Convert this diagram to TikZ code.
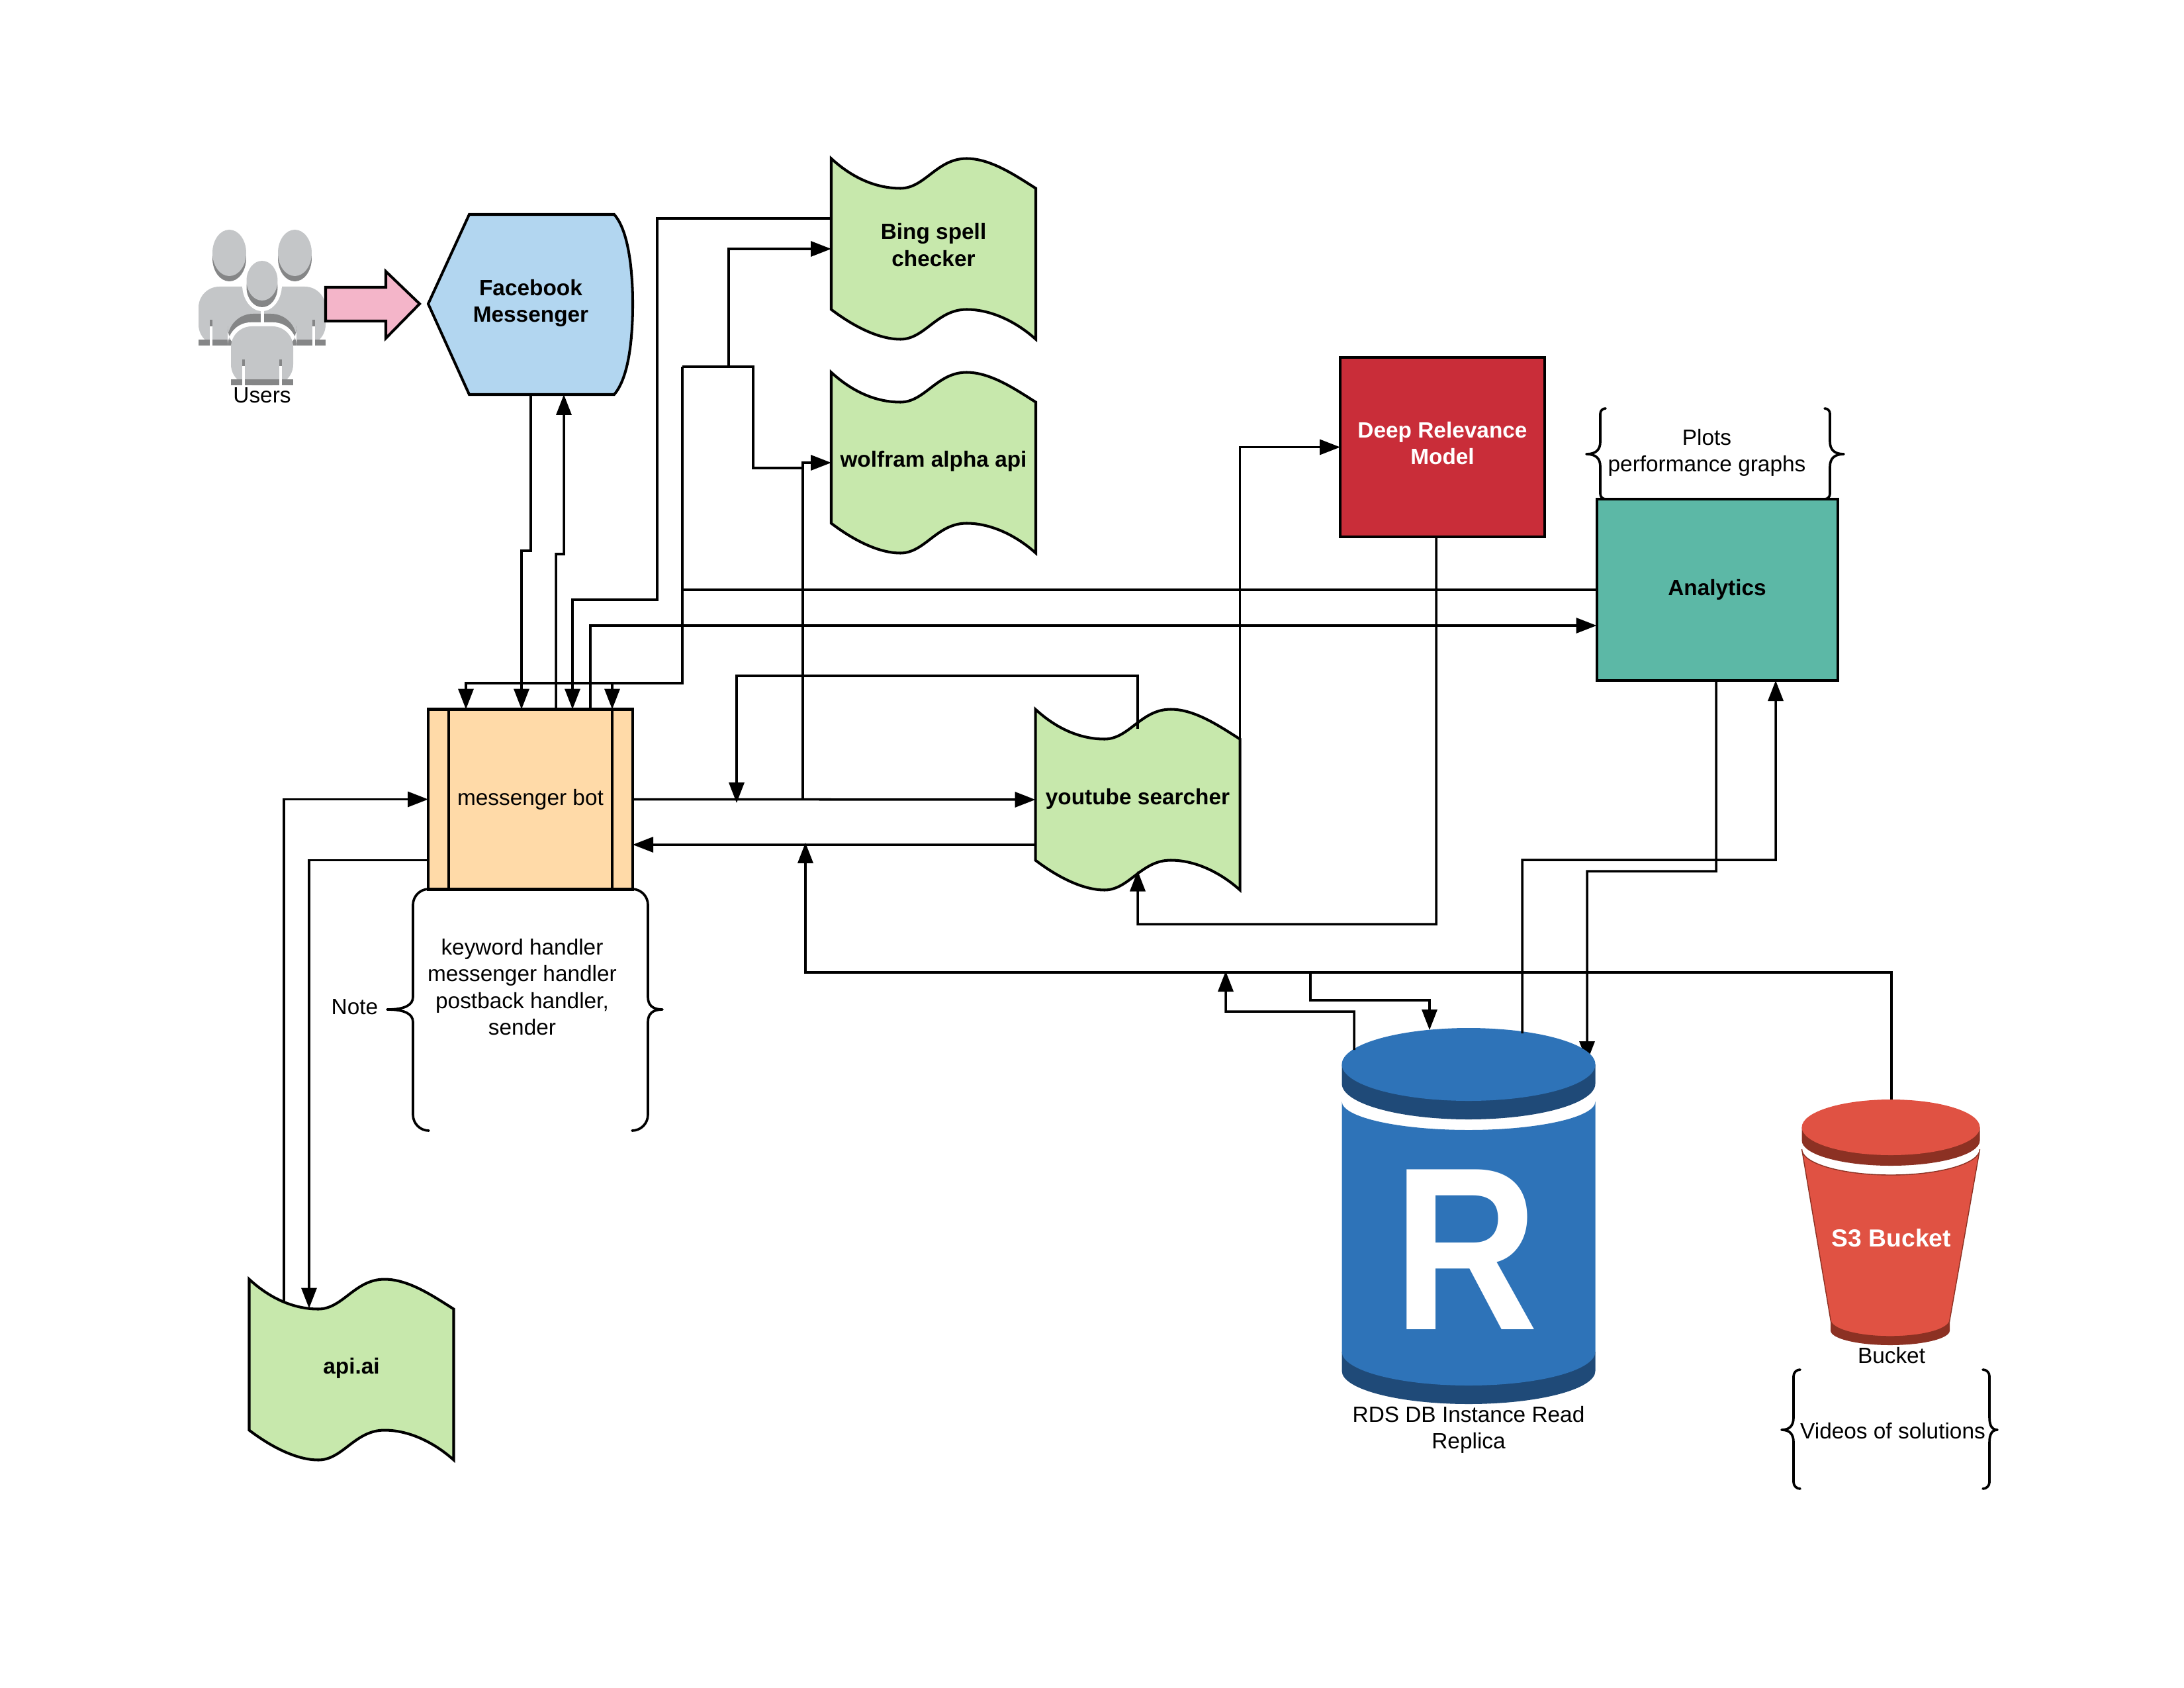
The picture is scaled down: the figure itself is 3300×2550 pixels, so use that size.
\documentclass[tikz,border=0pt]{standalone}
\usepackage{fontspec}
\setmainfont{Liberation Sans}
\usepackage{tikz}
\usetikzlibrary{arrows.meta}
\usepackage{xcolor}
\definecolor{greenFill}{HTML}{C7E8AC}
\definecolor{blueFill}{HTML}{B2D6F0}
\definecolor{orangeFill}{HTML}{FFDAA8}
\definecolor{redFill}{HTML}{C92D39}
\definecolor{tealFill}{HTML}{5CB8A6}
\definecolor{pinkFill}{HTML}{F4B5C9}
\definecolor{rdsBlue}{HTML}{2E73B8}
\definecolor{rdsDark}{HTML}{1F4A78}
\definecolor{bucketRed}{HTML}{E05243}
\definecolor{bucketDark}{HTML}{8C3123}
\definecolor{userLight}{HTML}{C4C6C8}
\definecolor{userDark}{HTML}{858687}
\newcommand{\wavenode}[5]{%
\draw[wavepath, shift={(#2,#3)}] (-154.5,-136.5) .. controls (-117,-102) and (-80,-91.5) .. (-50,-91.5) .. controls (-13,-91.5) and (5,-136.5) .. (50,-136.5) .. controls (87,-136.5) and (125,-110) .. (154.5,-91.5) -- (154.5,136.5) .. controls (125,110) and (87,91.5) .. (50,91.5) .. controls (5,91.5) and (-13,136.5) .. (-50,136.5) .. controls (-80,136.5) and (-117,120) .. (-154.5,91.5) -- cycle;
\node[tag, minimum width=30.9cm/10, minimum height=27.3cm/10] (#1) at (#2,#3) {};
\node[boldtag, yshift=#5] (#1Text) at (#1.center) {#4};}
\newcommand{\curlypair}[8]{%
\draw[curly] ({#1+#7},#3) arc[start angle=270, end angle=180, radius=#7] -- (#1,{#4-19}) .. controls (#1,{#4-6}) and ({#1-#6*0.35},#4) .. ({#1-#6},#4) .. controls ({#1-#6*0.35},#4) and (#1,{#4+6}) .. (#1,{#4+19}) -- (#1,{#5-#7}) arc[start angle=180, end angle=90, radius=#7];
\draw[curly] ({#2-#7},#3) arc[start angle=270, end angle=360, radius=#7] -- (#2,{#4-19}) .. controls (#2,{#4-6}) and ({#2+#8*0.35},#4) .. ({#2+#8},#4) .. controls ({#2+#8*0.35},#4) and (#2,{#4+6}) .. (#2,{#4+19}) -- (#2,{#5-#7}) arc[start angle=0, end angle=90, radius=#7];}
\begin{document}
\begin{tikzpicture}[x=0.1mm, y=-0.1mm,
  tag/.style={inner sep=0pt, outer sep=0pt, align=center, font=\fontsize{9.5}{11.5}\selectfont},
  boldtag/.style={tag, font=\fontsize{9.5}{11.5}\selectfont\bfseries},
  boxed/.style={boldtag, draw, line width=1.15pt},
  wavepath/.style={draw, line width=1.15pt, fill=greenFill, line join=miter},
  curly/.style={draw, line width=1.05pt, line cap=round, line join=round},
  flowline/.style={draw, line width=1pt},
  flowarrow/.style={flowline, -{Triangle[length=3.1mm,width=2.3mm]}}]
\useasboundingbox (0,-1) rectangle (3300,2549);

\fill[userLight, rounded corners=3.15mm] (300,521) -- (300,432) -- (492,432) -- (492,521) -- cycle;
\fill[userDark] (300,512) rectangle (492,521);
\fill[userDark] (317,482) rectangle (321,492);
\fill[userDark] (472,482) rectangle (476,492);
\fill[white] (317,492) rectangle (321,521);
\fill[white] (472,492) rectangle (476,521);
\fill[userDark, rounded corners=3.85mm] (344,530) -- (344,473) -- (448,473) -- (448,530) -- cycle;
\fill[white, rounded corners=3.5mm] (344,530) -- (344,486) -- (448,486) -- (448,530) -- cycle;
\fill[white] (344,521) rectangle (448,530);
\fill[userLight, rounded corners=3.15mm] (349,581) -- (349,492) -- (443,492) -- (443,581) -- cycle;
\fill[userDark] (349,572) rectangle (443,581);
\fill[userDark] (366,542) rectangle (370,552);
\fill[userDark] (422,542) rectangle (426,552);
\fill[white] (366,552) rectangle (370,581);
\fill[white] (422,552) rectangle (426,581);
\fill[white] (396,429) ellipse[x radius=30, y radius=40];
\fill[white] (393.5,460) rectangle (399,486);
\fill[userDark] (346.5,389) ellipse[x radius=25.5, y radius=35];
\fill[userLight] (346.5,381) ellipse[x radius=25.5, y radius=35];
\fill[userDark] (445.5,389) ellipse[x radius=25.5, y radius=35];
\fill[userLight] (445.5,381) ellipse[x radius=25.5, y radius=35];
\fill[userDark] (396,433) ellipse[x radius=23.5, y radius=30];
\fill[userLight] (396,423) ellipse[x radius=23.5, y radius=30];
\node[tag] (usersLabel) at (396,596) {Users};

\draw[line width=1.15pt, fill=pinkFill] (492,433) -- (583,433) -- (583,409) -- (634,458) -- (583,510) -- (583,484) -- (492,484) -- cycle;

\draw[line width=1.15pt, fill=blueFill] (647,458) -- (709,323) -- (928,323) .. controls (948,345) and (956,400) .. (956,458) .. controls (956,520) and (948,572) .. (928,595) -- (709,595) -- cycle;
\node[boldtag, minimum width=31cm/10, minimum height=27.6cm/10] (fb) at (802,457) {Facebook\\Messenger};

\wavenode{bing}{1410.5}{375}{Bing spell\\checker}{0.6mm}
\wavenode{wolfram}{1410.5}{698}{wolfram alpha api}{0.2mm}
\wavenode{yt}{1719}{1207}{youtube searcher}{0.1mm}
\wavenode{api}{531}{2068}{api.ai}{0.2mm}

\node[boxed, fill=redFill, minimum width=30.9cm/10, minimum height=27.1cm/10] (drm) at (2179.5,674.5) {};
\node[boldtag, text=white, yshift=0.6mm] (drmText) at (drm.center) {Deep Relevance\\Model};
\node[boxed, fill=tealFill, minimum width=36.4cm/10, minimum height=27.4cm/10] (analytics) at (2594.5,890) {Analytics};

\node[boxed, fill=orangeFill, font=\fontsize{9.5}{11.5}\selectfont, minimum width=30.9cm/10, minimum height=27.2cm/10] (bot) at (801.5,1206.5) {messenger bot};
\draw[line width=1.15pt] ([xshift=3.1mm]bot.north west) -- ([xshift=3.1mm]bot.south west);
\draw[line width=1.15pt] ([xshift=-3.1mm]bot.north east) -- ([xshift=-3.1mm]bot.south east);

\curlypair{624}{979}{1342}{1524}{1707}{39}{24}{22}
\node[tag] (noteText) at (789,1490) {keyword handler\\messenger handler\\postback handler,\\sender};
\node[tag] (noteLabel) at (536,1520) {Note};

\curlypair{2418}{2765}{616}{685}{753}{21}{8}{21}
\node[tag] (plotsText) at (2579,683) {Plots\\performance graphs};

\node[tag, minimum width=38.3cm/10, minimum height=56.8cm/10] (rds) at (2219,1836) {};
\draw[flowarrow] ([xshift=-0.15mm]analytics.south) -- (2593,1315) -| ([xshift=17.9mm,yshift=-5.1mm]rds.north);
\fill[rdsDark] (2027.5,2041) -- (2027.5,2070) arc[start angle=180, end angle=0, x radius=191.5, y radius=50] -- (2410.5,2041) -- cycle;
\fill[rdsBlue] (2027.5,1663) arc[start angle=180, end angle=0, x radius=191.5, y radius=43] -- (2410.5,2041) arc[start angle=0, end angle=180, x radius=191.5, y radius=51] -- cycle;
\fill[rdsDark] (2027.5,1607) -- (2027.5,1636) arc[start angle=180, end angle=0, x radius=191.5, y radius=54] -- (2410.5,1607) -- cycle;
\fill[rdsBlue] (2219,1607) ellipse[x radius=191.5, y radius=55];
\node[tag, text=white, font=\fontsize{97}{97}\selectfont\bfseries] (rdsLetter) at (2215,1887) {\scalebox{0.89}[1.03]{R}};
\node[tag, below of=rds, node distance=32.3mm] (rdsLabel) {RDS DB Instance Read\\Replica};

\fill[bucketDark] (2766,1993) -- (2766,2009) arc[start angle=180, end angle=0, x radius=90, y radius=22] -- (2946,1993) -- cycle;
\filldraw[fill=bucketRed, draw=bucketDark, line width=0.4pt] (2722.5,1735) arc[start angle=180, end angle=0, x radius=134.5, y radius=39] -- (2946,1993) arc[start angle=0, end angle=180, x radius=90, y radius=25] -- cycle;
\fill[bucketDark] (2722.5,1702) -- (2722.5,1722) arc[start angle=180, end angle=0, x radius=134.5, y radius=38] -- (2991.5,1702) -- cycle;
\fill[bucketRed] (2857,1702) ellipse[x radius=134.5, y radius=42];
\node[tag, minimum width=26.9cm/10, minimum height=37.1cm/10] (s3) at (2858,1845.5) {};
\node[boldtag, text=white, font=\fontsize{10.6}{12}\selectfont\bfseries] (s3Text) at (2858,1869) {S3 Bucket};
\node[tag] (s3Label) at (2858,2047) {Bucket};

\curlypair{2710}{3006}{2068}{2159}{2248}{18}{10}{12}
\node[tag] (videosText) at (2860,2161) {Videos of solutions};

\coordinate (split) at (1031,553);
\coordinate (botFork) at (1031,1031);
\coordinate (ytFork) at (1213,1207);
\coordinate (busTip) at (1217,1272);
\coordinate (botDrop) at (1113,1212);
\coordinate (busDrop) at (1980,1468);
\coordinate (busRise) at (1852,1466);

\draw[flowarrow] (fb.south) -- (802,831) -| ([xshift=-1.35mm]bot.north);
\draw[flowarrow] ([xshift=3.85mm]bot.north) -- (840,836) -| ([xshift=5mm]fb.south);
\draw[flowarrow] ([yshift=4.6mm]bing.west) -| (993,905) -| ([xshift=6.35mm]bot.north);
\draw[flowline] (analytics.west) -| (botFork);
\draw[flowarrow] (split) -- (botFork) -| ([xshift=12.35mm]bot.north);
\draw[flowarrow] (botFork) -| ([xshift=-9.75mm]bot.north);
\draw[flowarrow] (split) -- (1101,553) |- (bing.west);
\draw[flowline] (split) -| (1138,706) -- (1213,706);
\draw[flowarrow] (ytFork) |- (wolfram.west);
\draw[flowarrow] ([xshift=9.05mm]bot.north) |- ([yshift=-5.4mm]analytics.west);
\draw[flowarrow] (bot.east) -- (yt.west);
\draw[flowarrow] ([yshift=-6.8mm]yt.west) -- (bot.east |- 0,1275);
\draw[flowarrow] ([yshift=-2.9mm]yt.north) |- (1113,1020) -- (botDrop);
\draw[flowarrow] ([yshift=-4.5mm]yt.north east) |- (drm.west);
\draw[flowarrow] ([xshift=-0.95mm]drm.south) -- (2170,1395) -| ([yshift=2.9mm]yt.south);
\draw[flowarrow] ([xshift=8.1mm,yshift=-0.8mm]rds.north) -- (2300,1298) -| ([xshift=8.85mm]analytics.south);
\draw[flowarrow] (s3.north) |- (1217,1468) -- (busTip);
\draw[flowarrow] (busDrop) -- (1980,1510) -| ([xshift=-5.9mm,yshift=-0.3mm]rds.north);
\draw[flowarrow] ([xshift=-17.3mm,yshift=-3.3mm]rds.north) -- (2046,1527) -| (busRise);
\draw[flowarrow] ([xshift=-10.2mm,yshift=-3.35mm]api.north) |- (bot.west);
\draw[flowarrow] ([yshift=-9.2mm]bot.west) -| ([xshift=-6.4mm,yshift=-4.4mm]api.north);
\end{tikzpicture}
\end{document}
